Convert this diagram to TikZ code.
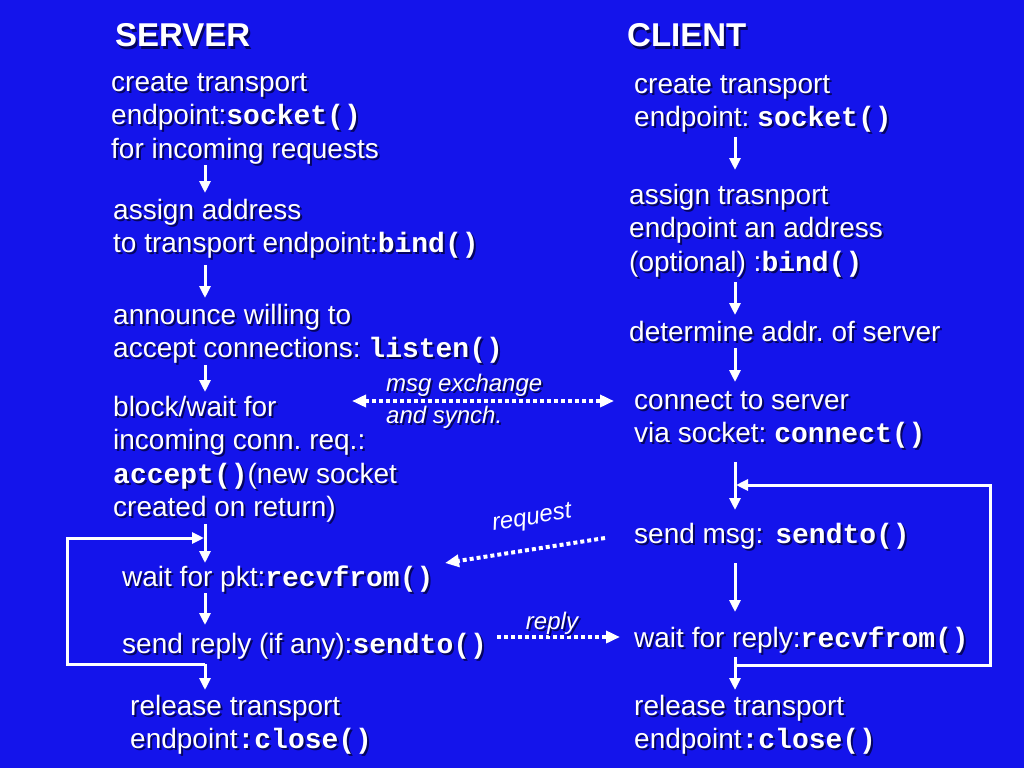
\documentclass[tikz,border=0pt]{standalone}
\usepackage{fontspec}
\setmainfont{Liberation Sans}
\newfontfamily\codefont{Liberation Mono}
\usetikzlibrary{arrows.meta,calc}
\definecolor{bg}{RGB}{20,20,235}
\definecolor{shd}{RGB}{5,5,95}
\frenchspacing
\newcommand\cd[1]{{\codefont\bfseries #1}}
\newcommand\st{\rule[-7pt]{0pt}{29pt}}
\newcommand\sh[4]{\node[#1,text=shd] at ($(#2)+(2,2)$) {#4};\node[#1] (#3) at (#2) {#4};}
\tikzset{
  txt/.style={text=white, inner sep=0pt, anchor=north west, align=left,
              font=\fontsize{28}{33.5}\selectfont},
  hdr/.style={text=white, inner sep=0pt, anchor=base west,
              font=\fontsize{33}{38}\selectfont\bfseries},
  lbl/.style={text=white, inner sep=0pt, font=\fontsize{24}{28}\selectfont\itshape},
  arr/.style={draw=white, line width=3pt, line join=miter,
              -{Triangle[length=12pt,width=11pt]}},
  dots/.style={draw=white, line width=4pt, line cap=butt, dash pattern=on 4pt off 3pt},
  tip/.tip={Triangle[length=14pt,width=12pt]}
}
\begin{document}
\begin{tikzpicture}[x=1pt,y=-1pt]
\fill[bg] (0,0) rectangle (1024,768);
\useasboundingbox (0,0) rectangle (1024,768);
\coordinate (colS) at (205,0);
\coordinate (colC) at (735,0);

% headers
\sh{hdr}{115,47}{hS}{SERVER}
\sh{hdr}{627,47}{hC}{CLIENT}

% server column
\sh{txt}{111,69}{S1}{\st create transport\\\st endpoint:\cd{socket()}\\\st for incoming requests}
\sh{txt}{113,197}{S2}{\st assign address\\\st to transport endpoint:\cd{bind()}}
\sh{txt}{113,302}{S3}{\st announce willing to\\\st accept connections: \cd{listen()}}
\sh{txt}{113,394}{S4}{\st block/wait for\\\st incoming conn. req.:\\\st \cd{accept()}(new socket\\\st created on return)}
\sh{txt}{122,564}{S5}{\st wait for pkt:\cd{recvfrom()}}
\sh{txt}{122,631}{S6}{\st send reply (if any):\cd{sendto()}}
\sh{txt}{130,693}{S7}{\st release transport\\\st endpoint\cd{:close()}}

% client column
\sh{txt}{634,71}{C1}{\st create transport\\\st endpoint: \cd{socket()}}
\sh{txt}{629,182}{C2}{\st assign trasnport\\\st endpoint an address\\\st (optional) :\cd{bind()}}
\sh{txt}{629,319}{C3}{\st determine addr. of server}
\sh{txt}{634,387}{C4}{\st connect to server\\\st via socket: \cd{connect()}}
\sh{txt}{634,521}{C5}{\st send msg:\hspace{12pt}\cd{sendto()}}
\sh{txt}{634,625}{C6}{\st wait for reply:\cd{recvfrom()}}
\sh{txt}{634,693}{C7}{\st release transport\\\st endpoint\cd{:close()}}

% server arrows
\draw[arr,shorten >=4pt] (S1.south -| colS) -- (S2.north -| colS);
\draw[arr,shorten <=5pt,shorten >=4pt] (S2.south -| colS) -- (S3.north -| colS);
\draw[arr,shorten >=2pt] (S3.south -| colS) -- (S4.north -| colS);
\draw[arr,shorten >=1pt] (S4.south -| colS) -- (S5.north -| colS);
\draw[arr,shorten >=6pt] (S5.south -| colS) -- (S6.north -| colS);
\draw[arr,shorten <=4pt,shorten >=3pt] (S6.south -| colS) -- (S7.north -| colS);

% client arrows
\draw[arr,shorten <=3pt,shorten >=12pt] (C1.south -| colC) -- (C2.north -| colC);
\draw[arr,shorten <=4pt,shorten >=4pt] (C2.south -| colC) -- (C3.north -| colC);
\draw[arr,shorten >=5pt] (C3.south -| colC) -- (C4.north -| colC);
\draw[arr,shorten <=12pt,shorten >=11pt] (C4.south -| colC) -- (C5.north -| colC);
\draw[arr,shorten <=13pt,shorten >=13pt] (C5.south -| colC) -- (C6.north -| colC);
\draw[arr,shorten <=3pt,shorten >=3pt] (C6.south -| colC) -- (C7.north -| colC);

% loops
\coordinate (slA) at (205,664);
\coordinate (slB) at (67,664);
\coordinate (slC) at (67,538);
\coordinate (slD) at (204,538);
\draw[arr] (slA) -- (slB) -- (slC) -- (slD);
\coordinate (clA) at (735,665);
\coordinate (clB) at (990,665);
\coordinate (clC) at (990,485);
\coordinate (clD) at (736,485);
\draw[arr] (clA) -- (clB) -- (clC) -- (clD);

% dotted message arrows
\coordinate (mL) at (352,401);
\coordinate (mR) at (614,401);
\draw[dots,tip-tip] (mL) -- (mR);
\coordinate (rqA) at (605,538);
\coordinate (rqB) at (445,563);
\draw[dots,-tip] (rqA) -- (rqB);
\coordinate (rpA) at (497,637);
\coordinate (rpB) at (620,637);
\draw[dots,-tip] (rpA) -- (rpB);

% labels
\sh{lbl,anchor=base west}{386,391}{lM1}{msg exchange}
\sh{lbl,anchor=base west}{386,423}{lM2}{and synch.}
\node[lbl,rotate=9] (lRq) at (532,519) {request};
\sh{lbl}{552,623}{lRp}{reply}
\end{tikzpicture}
\end{document}
